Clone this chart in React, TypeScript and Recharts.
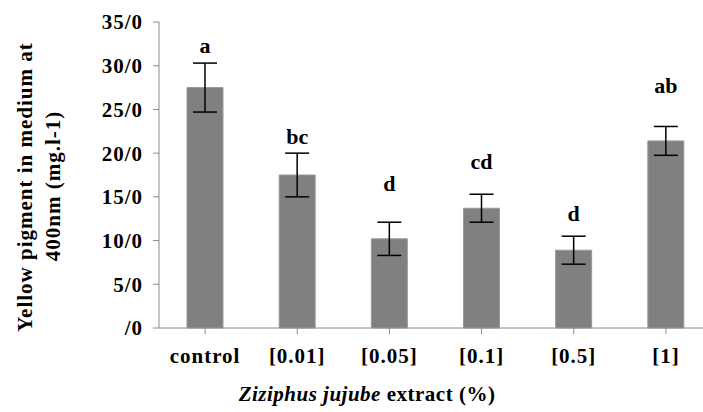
import { Bar, BarChart, ErrorBar, LabelList, XAxis, YAxis } from "recharts";

const categories = ["control", "[0.01]", "[0.05]", "[0.1]", "[0.5]", "[1]"];
const means = [27.5, 17.5, 10.2, 13.7, 8.9, 21.4];
const errors = [2.8, 2.5, 1.9, 1.6, 1.6, 1.65];
const letters = ["a", "bc", "d", "cd", "d", "ab"];
const yTicks = [0, 5, 10, 15, 20, 25, 30, 35];

const data = categories.map((name, i) => ({
  name,
  value: means[i],
  err: errors[i],
  letter: letters[i],
}));

const FONT = '"Liberation Serif", "Times New Roman", serif';
const AXIS = "#8c8c8c";

// px between error bar cap and the letter baseline (hand placed in the original)
const letterGap = [10, 9, 31, 25, 15, 33];

const tickStyle = {
  fontFamily: FONT,
  fontSize: 21,
  fontWeight: 700,
  fill: "#000",
  letterSpacing: 1,
};

function LetterLabel(props: any) {
  const { x, y, width, height, index } = props;
  const v = means[index];
  // bar height is value * scale, so error top follows from it
  const perUnit = height / v;
  const errTop = y - errors[index] * perUnit;
  return (
    <text
      x={x + width / 2}
      y={errTop - letterGap[index]}
      textAnchor="middle"
      style={{ fontFamily: FONT, fontSize: 22, fontWeight: 700 }}
      fill="#000"
    >
      {letters[index]}
    </text>
  );
}

function YTitle() {
  const style = {
    fontFamily: FONT,
    fontSize: 21,
    fontWeight: 700,
    letterSpacing: 1,
  };
  return (
    <g>
      <text transform="translate(32,187) rotate(-90)" textAnchor="middle" style={style} fill="#000">
        Yellow pigment in medium at
      </text>
      <text transform="translate(60,186) rotate(-90)" textAnchor="middle" style={style} fill="#000">
        400nm (mg.l-1)
      </text>
    </g>
  );
}

function XTitle() {
  return (
    <text
      x={367}
      y={401}
      textAnchor="middle"
      style={{ fontFamily: FONT, fontSize: 21, fontWeight: 700, letterSpacing: 0.5 }}
      fill="#000"
    >
      <tspan fontStyle="italic">Ziziphus jujube</tspan>
      <tspan> extract (%)</tspan>
    </text>
  );
}

export default function App() {
  return (
    <div
      style={{
        position: "absolute",
        left: 0,
        top: 0,
        width: 703,
        height: 412,
        overflow: "hidden",
        background: "#fff",
      }}
    >
      <BarChart
        width={720}
        height={412}
        data={data}
        margin={{ top: 22, right: 8, bottom: 0, left: 0 }}
        barCategoryGap={28}
      >
        <XAxis
          dataKey="name"
          height={84}
          tick={tickStyle}
          tickSize={6}
          tickMargin={14}
          stroke={AXIS}
          interval={0}
          label={<XTitle />}
        />
        <YAxis
          width={159}
          domain={[0, 35]}
          ticks={yTicks}
          tickFormatter={(v: number) => (v === 0 ? "/0" : `${v}/0`)}
          tick={tickStyle}
          tickSize={6}
          tickMargin={10}
          stroke={AXIS}
          label={<YTitle />}
        />
        <Bar
          dataKey="value"
          fill="#808080"
          stroke="#999999"
          strokeWidth={1}
          barSize={36}
          isAnimationActive={false}
        >
          <ErrorBar dataKey="err" width={12} stroke="#000" strokeWidth={1.5} />
          <LabelList dataKey="letter" content={<LetterLabel />} />
        </Bar>
      </BarChart>
    </div>
  );
}
